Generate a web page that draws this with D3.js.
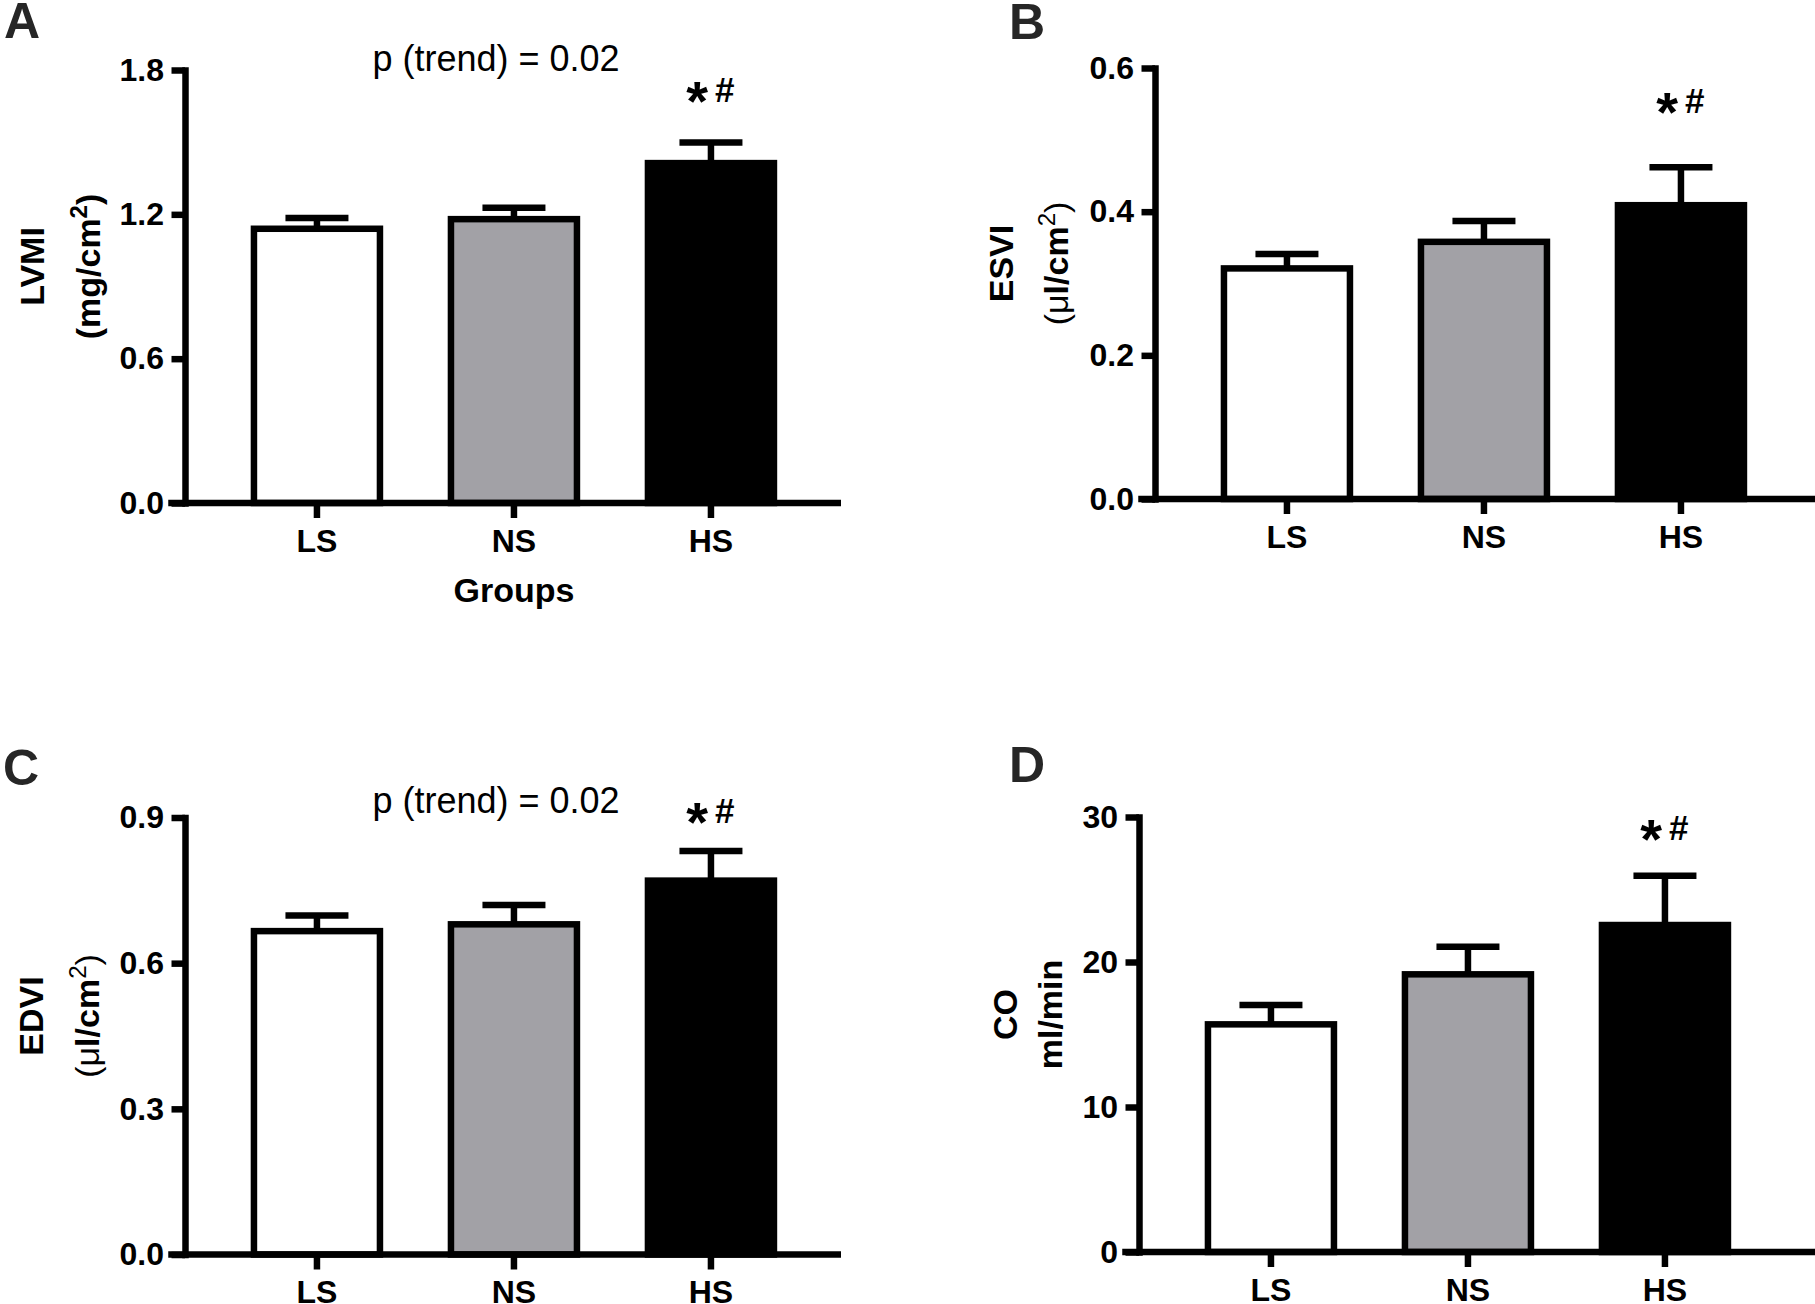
<!DOCTYPE html>
<html>
<head>
<meta charset="utf-8">
<script src="https://cdn.jsdelivr.net/npm/d3@7"></script>
<style>
  body { margin: 0; background: #ffffff; }
  svg { display: block; }
  text { font-family: "Liberation Sans", Arial, Helvetica, sans-serif; }
</style>
</head>
<body>
<svg id="chart" width="1815" height="1304"></svg>
<script>
// ---------- data ----------
const groups = ["LS", "NS", "HS"];

const lvmiMean = [1.14, 1.18, 1.413];
const lvmiSem  = [0.045, 0.047, 0.086];

const esviMean = [0.321, 0.358, 0.409];
const esviSem  = [0.020, 0.029, 0.053];

const edviMean = [0.666, 0.680, 0.770];
const edviSem  = [0.032, 0.040, 0.061];

const coMean = [15.7, 19.15, 22.55];
const coSem  = [1.33, 1.9, 3.4];

const lvmiTicks = [0, 0.6, 1.2, 1.8];
const esviTicks = [0, 0.2, 0.4, 0.6];
const edviTicks = [0, 0.3, 0.6, 0.9];
const coTicks   = [0, 10, 20, 30];

const trendLabel = "p (trend) = 0.02";
const sigLabel = ["*", "#"];
const xTitle = "Groups";

const barFills = ["#ffffff", "#a2a1a6", "#000000"];

// ---------- layout ----------
const LW = 6.5;
const TICK_FS = 32;
const panels = [
  { letter: "A", lx: 4, ly: 38, ax: 185, y0: 503, h: 433, xEnd: 841,
    mean: lvmiMean, sem: lvmiSem, ticks: lvmiTicks, fmt: ".1f",
    title: "A", trendY: 71, starY: 101.5, groups: true,
    t1: 141, t2: 85 },
  { letter: "B", lx: 1009, ly: 39, ax: 1155, y0: 499, h: 431, xEnd: 1815,
    mean: esviMean, sem: esviSem, ticks: esviTicks, fmt: ".1f",
    title: "B", trendY: null, starY: 113, groups: false,
    t1: 142, t2: 87 },
  { letter: "C", lx: 3, ly: 785, ax: 185, y0: 1254.5, h: 437, xEnd: 841,
    mean: edviMean, sem: edviSem, ticks: edviTicks, fmt: ".1f",
    title: "C", trendY: 813, starY: 823, groups: false,
    t1: 142, t2: 86 },
  { letter: "D", lx: 1009, ly: 782, ax: 1139, y0: 1252, h: 435, xEnd: 1815,
    mean: coMean, sem: coSem, ticks: coTicks, fmt: "d",
    title: "D", trendY: null, starY: 839.5, groups: false,
    t1: 122, t2: 77 }
];

const svg = d3.select("#chart");

function drawTitle(g, p, yMid) {
  const cy = yMid - 20;
  const mk = (xOff) => g.append("text")
    .attr("transform", `translate(${-xOff},${cy}) rotate(-90)`)
    .attr("text-anchor", "middle")
    .attr("font-size", 34)
    .attr("fill", "#000");
  if (p.title === "A") {
    mk(p.t1).attr("font-weight", "bold").text("LVMI");
    const t = mk(p.t2).attr("font-weight", "bold");
    t.append("tspan").text("(mg/cm");
    t.append("tspan").attr("font-size", 24).attr("dy", -13).text("2");
    t.append("tspan").attr("dy", 13).text(")");
  } else if (p.title === "B" || p.title === "C") {
    mk(p.t1).attr("font-weight", "bold").text(p.title === "B" ? "ESVI" : "EDVI");
    const t = mk(p.t2);
    t.append("tspan").attr("font-weight", "normal").text("(\u03bc");
    t.append("tspan").attr("font-weight", "bold").text("l/cm");
    t.append("tspan").attr("font-weight", "normal").attr("font-size", 24).attr("dy", -13).text("2");
    t.append("tspan").attr("font-weight", "normal").attr("dy", 13).text(")");
  } else {
    mk(p.t1).attr("font-weight", "bold").text("CO");
    mk(p.t2).attr("font-weight", "bold").text("ml/min");
  }
}

panels.forEach(p => {
  // panel letter
  svg.append("text")
    .attr("x", p.lx).attr("y", p.ly)
    .attr("font-size", 50).attr("font-weight", "bold")
    .attr("fill", "#262626")
    .text(p.letter);

  const g = svg.append("g").attr("transform", `translate(${p.ax},0)`);
  const maxV = p.ticks[p.ticks.length - 1];

  const y = d3.scaleLinear().domain([0, maxV]).range([p.y0, p.y0 - p.h]);
  const x = d3.scaleBand().domain(groups).range([0, 657.9])
    .paddingInner(0.3604).paddingOuter(0.35);

  // error bars (behind bars)
  groups.forEach((grp, i) => {
    const cx = x(grp) + x.bandwidth() / 2;
    const top = y(p.mean[i] + p.sem[i]);
    g.append("line")
      .attr("x1", cx).attr("x2", cx)
      .attr("y1", y(p.mean[i])).attr("y2", top)
      .attr("stroke", "#000").attr("stroke-width", LW);
    g.append("line")
      .attr("x1", cx - 31.5).attr("x2", cx + 31.5)
      .attr("y1", top).attr("y2", top)
      .attr("stroke", "#000").attr("stroke-width", LW);
  });

  // bars
  g.selectAll("rect.bar").data(groups).enter().append("rect")
    .attr("class", "bar")
    .attr("x", d => x(d))
    .attr("width", x.bandwidth())
    .attr("y", (d, i) => y(p.mean[i]))
    .attr("height", (d, i) => y(0) - y(p.mean[i]))
    .attr("fill", (d, i) => barFills[i])
    .attr("stroke", "#000")
    .attr("stroke-width", LW);

  // y axis
  const yAxis = d3.axisLeft(y)
    .tickValues(p.ticks)
    .tickFormat(d3.format(p.fmt))
    .tickSize(13.5)
    .tickSizeOuter(0)
    .tickPadding(7.5);
  const ya = g.append("g").call(yAxis);
  ya.select(".domain").attr("stroke", "#000").attr("stroke-width", LW)
    .attr("stroke-linecap", "square");
  ya.selectAll(".tick line").attr("stroke", "#000").attr("stroke-width", LW);
  ya.selectAll(".tick text")
    .attr("font-family", "'Liberation Sans', Arial, sans-serif")
    .attr("font-size", TICK_FS).attr("font-weight", "bold").attr("fill", "#000");

  // x axis
  const xAxis = d3.axisBottom(x).tickSize(15).tickSizeOuter(0).tickPadding(11);
  const xa = g.append("g").attr("transform", `translate(0,${p.y0})`).call(xAxis);
  xa.select(".domain")
    .attr("d", `M${-13.5 - LW / 2},0H${p.xEnd - p.ax}`)
    .attr("stroke", "#000").attr("stroke-width", LW);
  xa.selectAll(".tick line").attr("stroke", "#000").attr("stroke-width", LW);
  xa.selectAll(".tick text")
    .attr("font-family", "'Liberation Sans', Arial, sans-serif")
    .attr("font-size", TICK_FS).attr("font-weight", "bold").attr("fill", "#000");

  // y title
  drawTitle(g, p, (p.y0 + (p.y0 - p.h)) / 2);

  // x title
  if (p.groups) {
    g.append("text")
      .attr("x", x("NS") + x.bandwidth() / 2)
      .attr("y", p.y0 + 99)
      .attr("text-anchor", "middle")
      .attr("font-size", 34).attr("font-weight", "bold")
      .text(xTitle);
  }

  // trend annotation
  if (p.trendY !== null) {
    svg.append("text")
      .attr("x", 496).attr("y", p.trendY)
      .attr("text-anchor", "middle")
      .attr("font-size", 36)
      .text(trendLabel);
  }

  // significance markers over HS
  const hx = p.ax + x("HS") + x.bandwidth() / 2;
  svg.append("text")
    .attr("x", hx - 3).attr("y", p.starY + 18)
    .attr("text-anchor", "end")
    .attr("font-size", 56).attr("font-weight", "bold")
    .text(sigLabel[0]);
  svg.append("text")
    .attr("x", hx + 4).attr("y", p.starY)
    .attr("text-anchor", "start")
    .attr("font-size", 35).attr("font-weight", "bold")
    .text(sigLabel[1]);
});
</script>
</body>
</html>
